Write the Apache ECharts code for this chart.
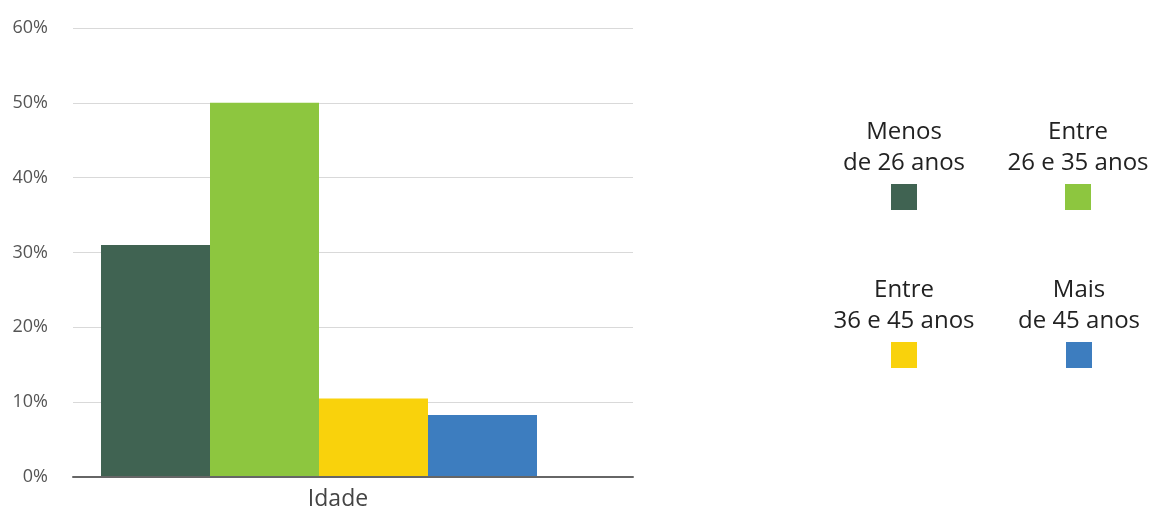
<!DOCTYPE html>
<html>
<head>
<meta charset="utf-8">
<script src="https://cdn.jsdelivr.net/npm/echarts@6/dist/echarts.min.js"></script>
<style>
  html, body { margin: 0; padding: 0; background: #fff; }
  #chart { width: 1153px; height: 512px; }
</style>
</head>
<body>
<div id="chart"></div>
<script>
var categories = ['Idade'];
var seriesNames = [['Menos', 'de 26 anos'], ['Entre', '26 e 35 anos'], ['Entre', '36 e 45 anos'], ['Mais', 'de 45 anos']];
var seriesValues = [31, 50, 10.5, 8.3];
var seriesColors = ['#406352', '#8dc63f', '#f9d20c', '#3d7dbf'];

var chart = echarts.init(document.getElementById('chart'));

// legend: text above a colour square, 2 x 2
var legendCenters = [[904, 133], [1078, 133], [904, 291], [1079, 291]];
var graphics = [];
seriesNames.forEach(function (n, i) {
  var c = legendCenters[i];
  graphics.push({
    type: 'text', x: c[0], y: c[1] - 16,
    style: {
      text: n.join('\n'), align: 'center',
      font: '24px "Open Sans"', lineHeight: 31, fill: '#222'
    }
  });
  graphics.push({
    type: 'rect', x: c[0] - 13, y: c[1] + 51,
    shape: { width: 26, height: 26 },
    style: { fill: seriesColors[i] }
  });
});

var option = {
  animation: false,
  textStyle: { fontFamily: 'Open Sans' },
  grid: [
    { left: 73, width: 560, top: 28, bottom: 35 },
    { left: 73, width: 492, top: 28, bottom: 35 }
  ],
  xAxis: [
    {
      type: 'category', gridIndex: 0, data: categories,
      axisLine: { lineStyle: { color: '#666', width: 2 } },
      axisTick: { show: false },
      axisLabel: { fontSize: 23, color: '#444', margin: 11, padding: [0, 30, 0, 0] },
      z: 5
    },
    { type: 'category', gridIndex: 1, data: categories, show: false }
  ],
  yAxis: [
    {
      type: 'value', gridIndex: 0, min: 0, max: 60, interval: 10,
      axisLine: { show: false }, axisTick: { show: false },
      axisLabel: { fontSize: 18, color: '#555', margin: 25, formatter: function (v) { return v + '%'; } },
      splitLine: { lineStyle: { color: '#d9d9d9', width: 1 } }
    },
    { type: 'value', gridIndex: 1, min: 0, max: 60, interval: 10, show: false, splitLine: { show: false } }
  ],
  series: seriesNames.map(function (n, i) {
    return {
      name: n.join(' '), type: 'bar', xAxisIndex: 1, yAxisIndex: 1,
      data: [seriesValues[i]], barWidth: 109, barGap: '0%',
      itemStyle: { color: seriesColors[i] }, z: 2
    };
  }),
  graphic: graphics
};
chart.setOption(option);
</script>
</body>
</html>
